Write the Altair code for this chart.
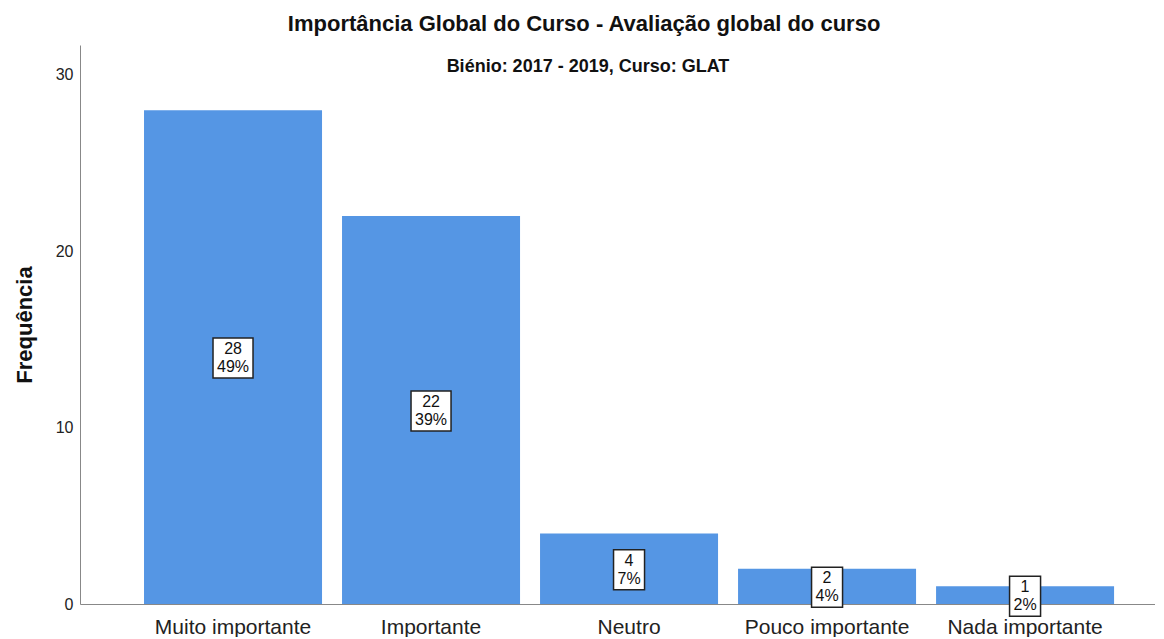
import altair as alt
import pandas as pd

categorias = ["Muito importante", "Importante", "Neutro", "Pouco importante", "Nada importante"]
frequencias = [28, 22, 4, 2, 1]
y_ticks = [0, 10, 20, 30]
titulo = "Importância Global do Curso - Avaliação global do curso"
subtitulo = "Biénio: 2017 - 2019, Curso: GLAT"

total = sum(frequencias)
df = pd.DataFrame({"cat": categorias, "freq": frequencias})
df["pct"] = [round(v * 100 / total) for v in frequencias]
df["mid"] = df["freq"] / 2

FONT = "Liberation Sans"
BLUE = "#5596e4"

xscale = alt.Scale(domain=categorias, paddingInner=0.101, paddingOuter=0.265, align=0.61)
yscale = alt.Scale(domain=[0, 31.7], nice=False, zero=True)

base = alt.Chart(df)

bars = base.mark_bar(color=BLUE).encode(
    x=alt.X("cat:N", scale=xscale, sort=categorias,
            axis=alt.Axis(title=None, labelAngle=0, labelFontSize=21, labelPadding=12,
                          ticks=False, domainColor="#888888", labelColor="#222222",
                          labelFont=FONT)),
    y=alt.Y("freq:Q", scale=yscale,
            axis=alt.Axis(title="Frequência", values=y_ticks, grid=False, ticks=False,
                          labelFontSize=16, labelPadding=7, titleFontSize=22,
                          titleFontWeight="bold", titlePadding=19, domainColor="#888888",
                          labelColor="#222222", titleColor="#111111", labelFont=FONT,
                          titleFont=FONT)),
)

boxes = base.mark_bar(fill="white", stroke="#222222", strokeWidth=1.5,
                      yOffset=-19, y2Offset=21).encode(
    x=alt.X("cat:N", scale=xscale, sort=categorias),
    y=alt.Y("mid:Q", scale=yscale),
    y2="mid:Q",
    size=alt.condition("datum.pct >= 10", alt.value(40), alt.value(31)),
)

labels = base.transform_calculate(
    lab="[toString(datum.freq), toString(datum.pct) + '%']"
).mark_text(fontSize=16, lineHeight=18, baseline="middle", dy=-8, font=FONT,
            color="#111111").encode(
    x=alt.X("cat:N", scale=xscale, sort=categorias),
    y=alt.Y("mid:Q", scale=yscale),
    text="lab:N",
)

sub = alt.Chart(pd.DataFrame({"t": [subtitulo]})).mark_text(
    fontSize=18, fontWeight="bold", font=FONT, color="#111111", baseline="middle"
).encode(text="t:N", x=alt.value(508), y=alt.value(22))

chart = alt.layer(bars, boxes, labels, sub).properties(
    width=1075, height=559,
    title=alt.TitleParams(titulo, fontSize=22, fontWeight="bold", font=FONT,
                          anchor="middle", frame="bounds", offset=9, color="#111111"),
    padding={"left": 5, "top": 5, "right": 0, "bottom": 0},
).configure_view(stroke=None)

chart.save("out.html", embed_options={"renderer": "svg", "actions": False})
